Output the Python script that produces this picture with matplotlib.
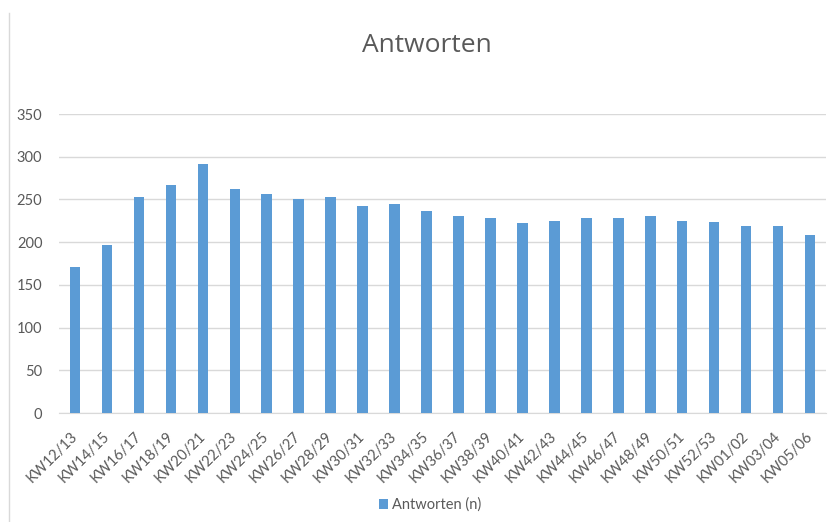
import matplotlib
matplotlib.use("Agg")
import matplotlib.pyplot as plt
from matplotlib.lines import Line2D

# -----------------------------------------------------------------------------
# DATA
# -----------------------------------------------------------------------------
weeks = ["KW12/13", "KW14/15", "KW16/17", "KW18/19", "KW20/21", "KW22/23",
         "KW24/25", "KW26/27", "KW28/29", "KW30/31", "KW32/33", "KW34/35",
         "KW36/37", "KW38/39", "KW40/41", "KW42/43", "KW44/45", "KW46/47",
         "KW48/49", "KW50/51", "KW52/53", "KW01/02", "KW03/04", "KW05/06"]
answers = [171, 197, 253, 267, 292, 262, 256, 250, 253, 242, 245, 237,
           231, 228, 222, 225, 228, 228, 231, 225, 223, 219, 219, 208]
y_ticks = [0, 50, 100, 150, 200, 250, 300, 350]

text_col = "#595959"
grid_col = "#d9d9d9"
bar_col = "#5b9bd5"
plt.rcParams["font.family"] = ["Lato", "DejaVu Sans"]

# -----------------------------------------------------------------------------
# FIGURE
# -----------------------------------------------------------------------------
fig = plt.figure(figsize=(8.29, 5.22), dpi=100)
ax = fig.add_axes([0.0712, 0.2088, 0.9252, 0.5728])

x = range(len(weeks))
ax.bar(x, answers, width=0.33, color=bar_col, zorder=3, label="Antworten (n)")

ax.set_xlim(-0.5, len(weeks) - 0.5)
ax.set_ylim(0, 350)
ax.set_yticks(y_ticks)
ax.yaxis.grid(True, color=grid_col, linewidth=1, zorder=0)
for s in ["top", "right", "left"]:
    ax.spines[s].set_visible(False)
ax.spines["bottom"].set_color(grid_col)

ax.set_xticks(list(x))
ax.set_xticklabels(weeks, rotation=45, ha="right", va="center",
                   rotation_mode="anchor", fontsize=10.5, color=text_col)
ax.tick_params(axis="x", length=0, pad=15)
ax.tick_params(axis="y", length=0, pad=12, labelsize=10.5, labelcolor=text_col)

fig.text(427 / 829, 1 - 45 / 522, "Antworten", ha="center", va="center",
         fontsize=19, color=text_col, family=["Open Sans", "DejaVu Sans"])

ax.legend(loc="center", bbox_to_anchor=(430 / 829, 1 - 505 / 522),
          bbox_transform=fig.transFigure, frameon=False, fontsize=10.5,
          labelcolor=text_col, handlelength=0.6, handleheight=0.6,
          handletextpad=0.3)

# left border of the chart frame
fig.add_artist(Line2D([9 / 829, 9 / 829], [0, 1 - 13 / 522],
                      transform=fig.transFigure, color=grid_col, linewidth=1))

fig.savefig("out.png", dpi=100)
plt.close(fig)
